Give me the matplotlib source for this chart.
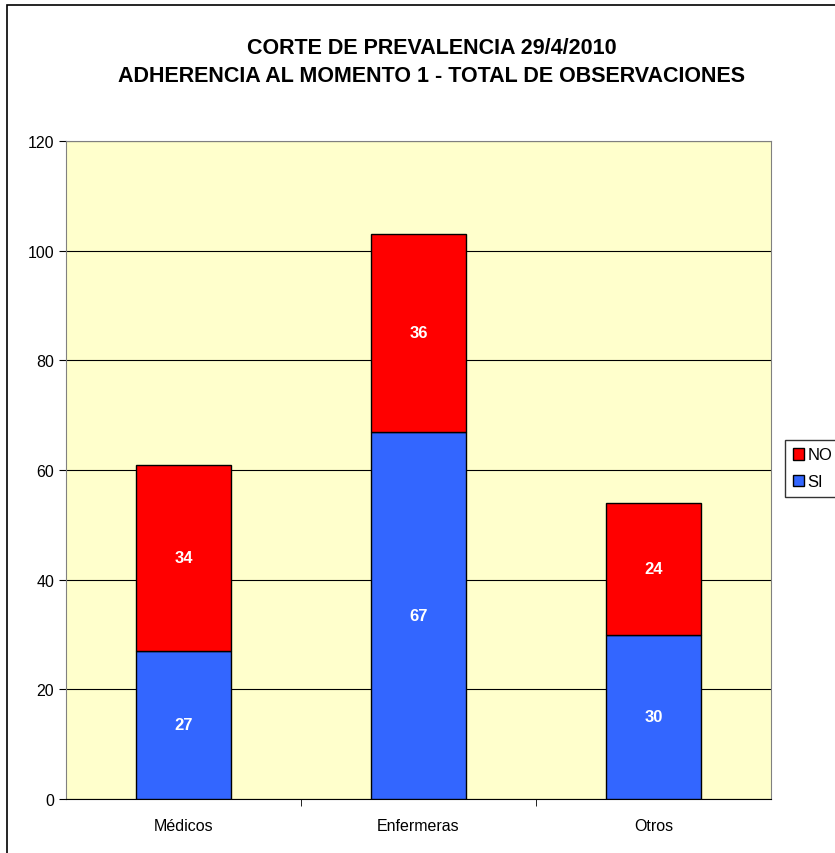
import matplotlib.pyplot as plt
from matplotlib.patches import Rectangle
import numpy as np

categories = ["Médicos", "Enfermeras", "Otros"]
si_values = [27, 67, 30]
no_values = [34, 36, 24]

plt.rcParams['font.family'] = ['Liberation Sans', 'DejaVu Sans']

fig = plt.figure(figsize=(8.35, 8.54), dpi=100)
# outer chart border (cut off on the right like the source)
fig.patches.append(Rectangle((7 / 835, -0.01), 1.0, 1 - 6 / 854 + 0.01,
                             transform=fig.transFigure, fill=False,
                             edgecolor="black", linewidth=1.2))

ax = fig.add_axes([66 / 835, 1 - 800 / 854, 705 / 835, 658 / 854])
ax.set_facecolor("#FFFFCC")
x = np.arange(len(categories))
w = 0.404

ax.bar(x, si_values, width=w, color="#3366FF", edgecolor="black", linewidth=1, zorder=3, label="SI")
ax.bar(x, no_values, width=w, bottom=si_values, color="#FF0000", edgecolor="black", linewidth=1, zorder=3, label="NO")

for xi, s, n in zip(x, si_values, no_values):
    ax.text(xi, s / 2, str(s), ha="center", va="center", color="white", fontsize=12, fontweight="bold", zorder=4)
    ax.text(xi, s + n / 2, str(n), ha="center", va="center", color="white", fontsize=12, fontweight="bold", zorder=4)

ax.set_xlim(-0.5, 2.5)
ax.set_ylim(0, 120)
ax.set_yticks(range(0, 121, 20))
ax.yaxis.grid(True, color="black", linewidth=0.8, zorder=1)
ax.set_xticks(x)
ax.set_xticklabels(categories, fontsize=11.5)
ax.tick_params(axis="x", length=0, pad=14)
ax.set_xticks([0.5, 1.5], minor=True)
ax.tick_params(axis="x", which="minor", length=5, direction="out")
ax.tick_params(axis="y", labelsize=11.5, length=5, direction="out")
for side in ["top", "right"]:
    ax.spines[side].set_color("#808080")
ax.spines["left"].set_color("#808080")
ax.spines["bottom"].set_color("black")

fig.text(432 / 835, 1 - 48 / 854, "CORTE DE PREVALENCIA 29/4/2010", ha="center", va="center",
         fontsize=15.5, fontweight="bold")
fig.text(432 / 835, 1 - 76 / 854, "ADHERENCIA AL MOMENTO 1 - TOTAL DE OBSERVACIONES", ha="center", va="center",
         fontsize=15.5, fontweight="bold")

handles, labels = ax.get_legend_handles_labels()
leg = fig.legend(handles[::-1], labels[::-1], loc="upper left", bbox_to_anchor=(785 / 835, 1 - 441 / 854),
                 frameon=True, fancybox=False, edgecolor="black", fontsize=12,
                 handlelength=0.7, handleheight=0.7, handletextpad=0.2, borderpad=0.45,
                 labelspacing=0.7, borderaxespad=0)
leg.get_frame().set_linewidth(1)

fig.savefig("out.png", dpi=100)
